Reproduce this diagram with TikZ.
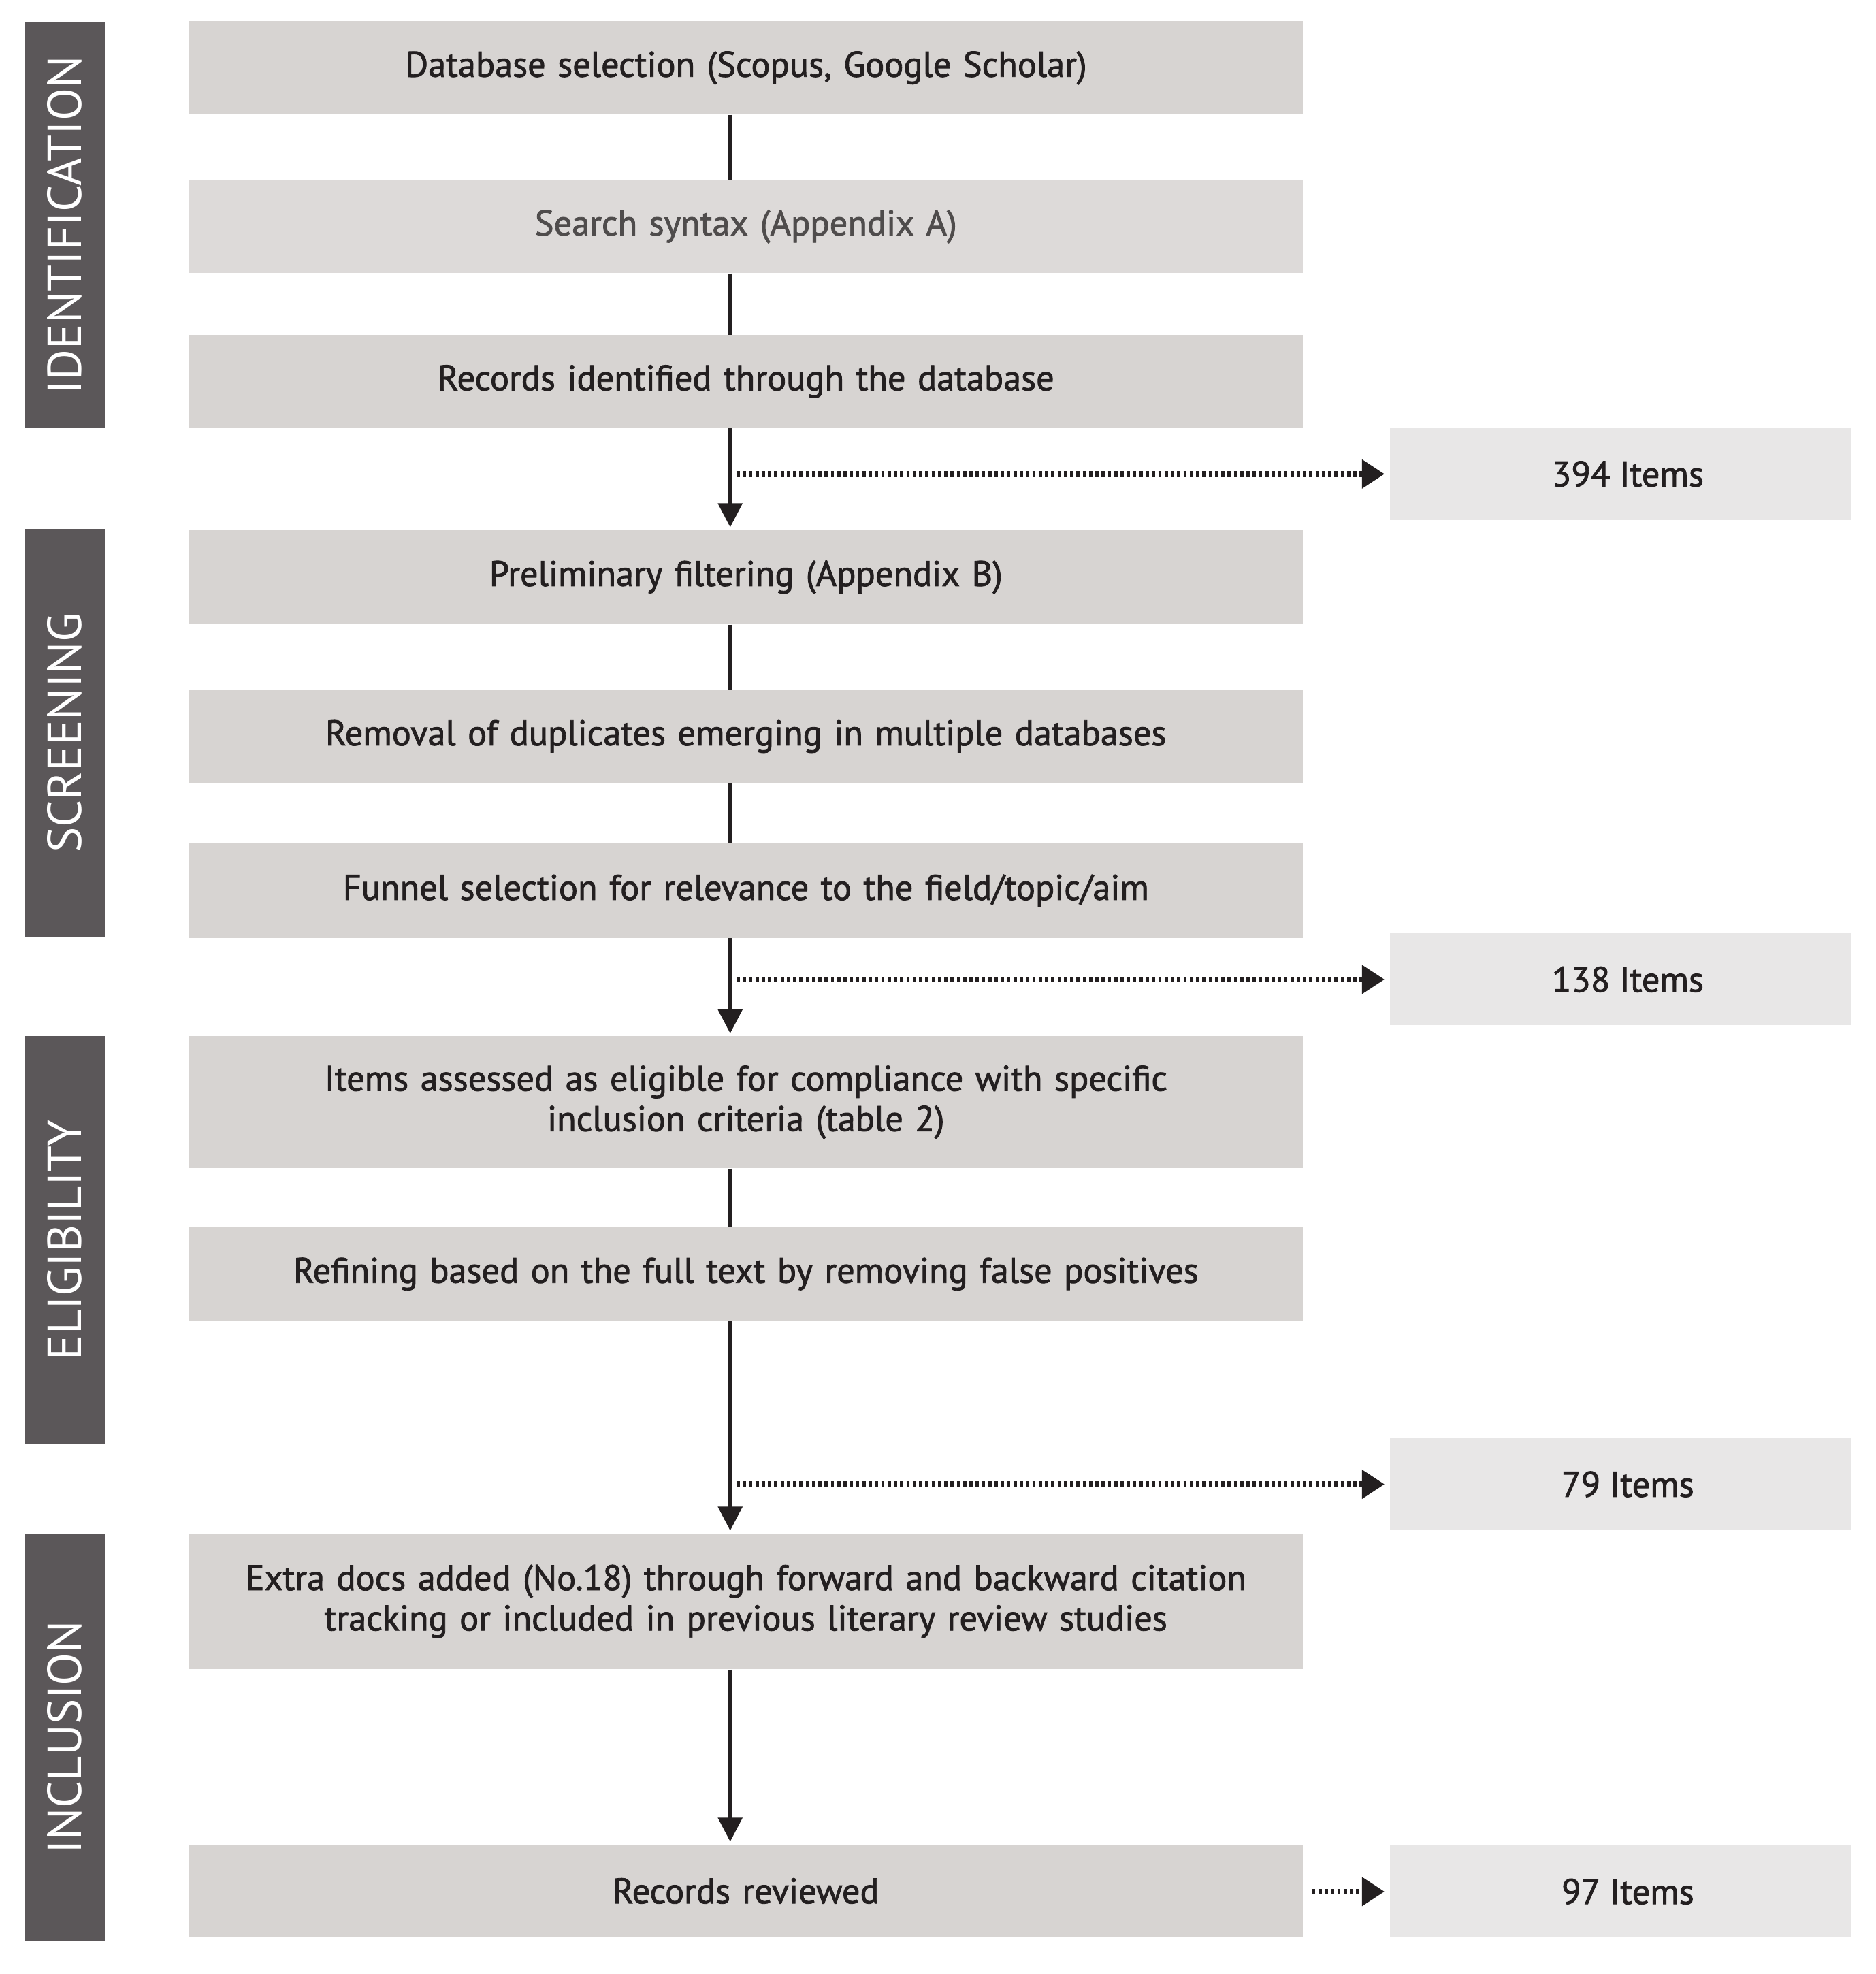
\documentclass[tikz,border=0pt]{standalone}
\usepackage{fontspec}
\setmainfont{PT Sans}
\newfontfamily\boxfont[FakeBold=1.6]{PT Sans}
\usetikzlibrary{arrows.meta}
\definecolor{phasecol}{HTML}{5B5759}
\definecolor{boxcol}{HTML}{D7D4D2}
\definecolor{itemcol}{HTML}{E8E7E7}
\definecolor{txtcol}{HTML}{231F20}
\begin{document}
\begin{tikzpicture}[x=1pt,y=-1pt,
  mainbox/.style={fill=boxcol, draw=none, minimum width=885pt, text width=860pt, align=center,
    inner sep=0pt, font=\boxfont\fontsize{28.3}{32}\selectfont, text=txtcol},
  itembox/.style={fill=itemcol, draw=none, minimum width=366pt, minimum height=73pt,
    inner sep=0pt, font=\boxfont\fontsize{28.3}{32}\selectfont, text=txtcol},
  phasebar/.style={fill=phasecol, draw=none, rotate=90, minimum height=63pt,
    inner sep=0pt, font=\fontsize{38}{40}\selectfont, text=white},
  flow/.style={line width=3pt, draw=txtcol},
  flowarrow/.style={flow, -{Triangle[length=19pt,width=19pt]}, shorten >=2pt},
  dotarrow/.style={line width=4.5pt, draw=txtcol, dash pattern=on 2.6pt off 2.4pt,
    -{Triangle[length=18pt,width=22pt]}, shorten >=4pt}
]
\useasboundingbox[fill=white] (0,0) rectangle (1490,1568);

% phase bars
\node[phasebar, minimum width=322pt] (ph1) at (51.5,179) {IDENTIFICATION};
\node[phasebar, minimum width=324pt] (ph2) at (51.5,582) {SCREENING};
\node[phasebar, minimum width=324pt] (ph3) at (51.5,985) {ELIGIBILITY};
\node[phasebar, minimum width=324pt] (ph4) at (51.5,1380) {INCLUSION};

% main boxes
\node[mainbox, minimum height=74pt] (b1) at (592.5,54) {Database selection (Scopus, Google Scholar)};
\node[mainbox, minimum height=74pt, fill=boxcol!85!white, text=txtcol!80] (b2) at (592.5,180) {Search syntax (Appendix A)};
\node[mainbox, minimum height=74pt] (b3) at (592.5,303) {Records identified through the database};
\node[mainbox, minimum height=75pt] (b4) at (592.5,458.5) {Preliminary filtering (Appendix B)};
\node[mainbox, minimum height=74pt] (b5) at (592.5,585) {Removal of duplicates emerging in multiple databases};
\node[mainbox, minimum height=75pt] (b6) at (592.5,707.5) {Funnel selection for relevance to the field/topic/aim};
\node[mainbox, minimum height=105pt] (b7) at (592.5,875.5) {Items assessed as eligible for compliance with specific\\inclusion criteria (table 2)};
\node[mainbox, minimum height=74pt] (b8) at (592.5,1012) {Refining based on the full text by removing false positives};
\node[mainbox, minimum height=108pt] (b9) at (592.5,1272) {Extra docs added (No.18) through forward and backward citation\\tracking or included in previous literary review studies};
\node[mainbox, minimum height=74pt] (b10) at (592.5,1502) {Records reviewed};

% item boxes
\node[itembox] (i1) at (1287,376.5) {\hspace*{12pt}394 Items};
\node[itembox] (i2) at (1287,778) {\hspace*{12pt}138 Items};
\node[itembox] (i3) at (1287,1179) {\hspace*{12pt}79 Items};
\node[itembox] (i4) at (1287,1502.5) {\hspace*{12pt}97 Items};

% spine
\coordinate (sx) at (580,0);
\draw[flow] (b1.south -| sx) -- (b2.north -| sx);
\draw[flow] (b2.south -| sx) -- (b3.north -| sx);
\draw[flowarrow] (b3.south -| sx) -- (b4.north -| sx);
\draw[flow] (b4.south -| sx) -- (b5.north -| sx);
\draw[flow] (b5.south -| sx) -- (b6.north -| sx);
\draw[flowarrow] (b6.south -| sx) -- (b7.north -| sx);
\draw[flow] (b7.south -| sx) -- (b8.north -| sx);
\draw[flowarrow] (b8.south -| sx) -- (b9.north -| sx);
\draw[flowarrow] (b9.south -| sx) -- (b10.north -| sx);

% dotted branches
\draw[dotarrow, shorten <=5pt] (i1.west -| sx) -- (i1.west);
\draw[dotarrow, shorten <=5pt] (i2.west -| sx) -- (i2.west);
\draw[dotarrow, shorten <=5pt] (i3.west -| sx) -- (i3.west);
\draw[dotarrow, shorten <=7pt] (b10.east |- i4.west) -- (i4.west);
\end{tikzpicture}
\end{document}
